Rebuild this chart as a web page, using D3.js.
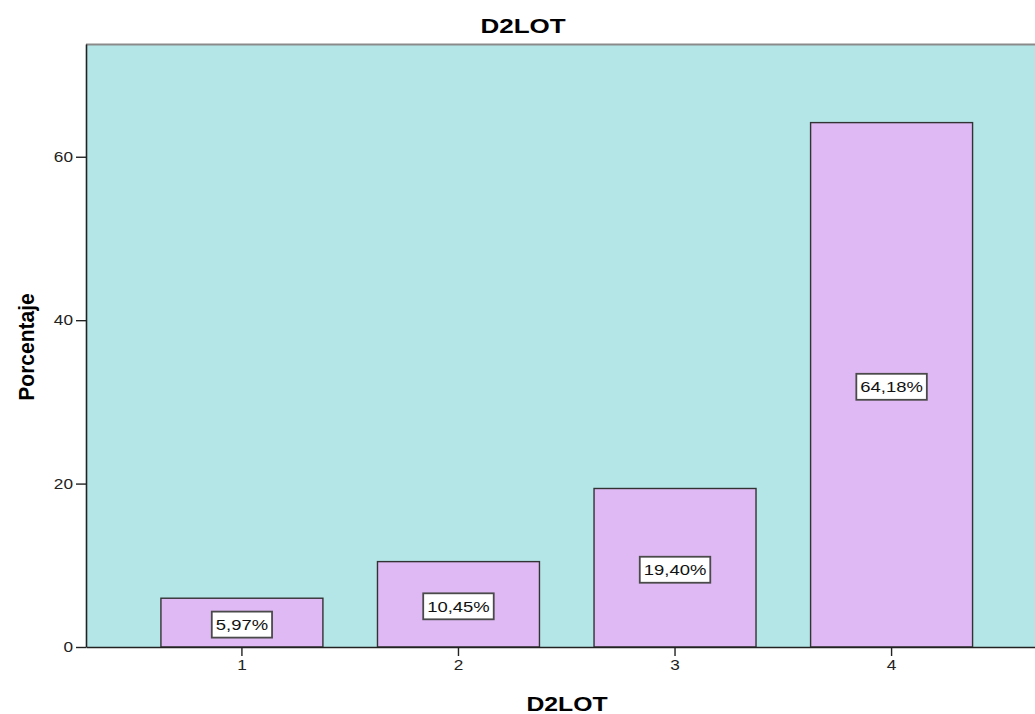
<!DOCTYPE html>
<html>
<head>
<meta charset="utf-8">
<script src="https://cdn.jsdelivr.net/npm/d3@7"></script>
<style>
  body { margin: 0; background: #fff; }
  svg { display: block; font-family: "Liberation Sans", Arial, sans-serif; }
</style>
</head>
<body>
<svg width="1035" height="714"></svg>
<script>
var categories = ["1", "2", "3", "4"];
var values = [5.97, 10.45, 19.40, 64.18];
var valueLabels = ["5,97%", "10,45%", "19,40%", "64,18%"];
var yTicks = [0, 20, 40, 60];

var svg = d3.select("svg");
var plotLeft = 86, plotTop = 44, plotBottom = 647, plotRight = 1047.5;
var stretch = 1.23; // the original picture is wider than tall

var xScale = d3.scaleBand()
    .domain(categories)
    .range([plotLeft, plotRight])
    .paddingInner(0.252)
    .paddingOuter(0.346);

var yScale = d3.scaleLinear()
    .domain([0, 73.8])
    .range([plotBottom, plotTop]);

// plot background
svg.append("rect")
    .attr("x", plotLeft).attr("y", plotTop)
    .attr("width", plotRight - plotLeft).attr("height", plotBottom - plotTop)
    .attr("fill", "#b4e6e8");
svg.append("line")
    .attr("x1", plotLeft).attr("x2", 1035)
    .attr("y1", plotTop + 0.5).attr("y2", plotTop + 0.5)
    .attr("stroke", "#8a8a8a").attr("stroke-width", 2);

// bars
svg.selectAll("rect.bar")
    .data(values)
    .enter()
    .append("rect")
    .attr("class", "bar")
    .attr("x", function(d, i) { return xScale(categories[i]); })
    .attr("y", function(d) { return yScale(d); })
    .attr("width", xScale.bandwidth())
    .attr("height", function(d) { return plotBottom - yScale(d); })
    .attr("fill", "#dfb9f3")
    .attr("stroke", "#333")
    .attr("stroke-width", 1.4);

// value labels
var labels = svg.selectAll("g.lbl")
    .data(values)
    .enter()
    .append("g")
    .attr("class", "lbl")
    .attr("transform", function(d, i) {
        return "translate(" + (xScale(categories[i]) + xScale.bandwidth() / 2) + "," + ((yScale(d) + plotBottom) / 2 + 2) + ")";
    });
labels.each(function(d, i) {
    var g = d3.select(this);
    var t = g.append("text")
        .attr("text-anchor", "middle")
        .attr("dy", "0.36em")
        .attr("font-size", 15)
        .attr("fill", "#111")
        .attr("transform", "scale(" + stretch + ",1)")
        .text(valueLabels[i]);
    var w = t.node().getComputedTextLength() * stretch + 8;
    g.insert("rect", "text")
        .attr("x", -w / 2).attr("y", -13)
        .attr("width", w).attr("height", 26)
        .attr("fill", "#fff")
        .attr("stroke", "#4a4a4a")
        .attr("stroke-width", 1.8);
});

// axes
var yAxis = d3.axisLeft(yScale).tickValues(yTicks).tickSize(10).tickPadding(2).tickSizeOuter(0);
var yg = svg.append("g").attr("transform", "translate(" + plotLeft + ",0)").call(yAxis);
yg.select(".domain").attr("stroke", "#222").attr("stroke-width", 1.6);
yg.selectAll(".tick line").attr("stroke", "#222").attr("stroke-width", 1.4);
yg.selectAll(".tick text")
    .attr("font-size", 14).attr("fill", "#222")
    .attr("font-family", "Liberation Sans, Arial, sans-serif")
    .attr("x", 0)
    .attr("transform", "translate(-13,0) scale(" + stretch + ",1)");

var xAxis = d3.axisBottom(xScale).tickSize(9).tickPadding(4).tickSizeOuter(0);
var xg = svg.append("g").attr("transform", "translate(0," + plotBottom + ")").call(xAxis);
xg.select(".domain").attr("stroke", "#222").attr("stroke-width", 1.6);
xg.selectAll(".tick line").attr("stroke", "#222").attr("stroke-width", 1.4);
xg.selectAll(".tick text")
    .attr("font-size", 14).attr("fill", "#222")
    .attr("font-family", "Liberation Sans, Arial, sans-serif")
    .attr("transform", "scale(" + stretch + ",1)");

// titles
svg.append("text")
    .attr("transform", "translate(523,33) scale(1.3,1)")
    .attr("text-anchor", "middle")
    .attr("font-size", 20).attr("font-weight", "bold")
    .text("D2LOT");
svg.append("text")
    .attr("transform", "translate(567,711) scale(1.27,1)")
    .attr("text-anchor", "middle")
    .attr("font-size", 19.5).attr("font-weight", "bold")
    .text("D2LOT");
svg.append("text")
    .attr("transform", "translate(34,347) scale(1.05,1) rotate(-90)")
    .attr("text-anchor", "middle")
    .attr("font-size", 21).attr("font-weight", "bold")
    .text("Porcentaje");
</script>
</body>
</html>
